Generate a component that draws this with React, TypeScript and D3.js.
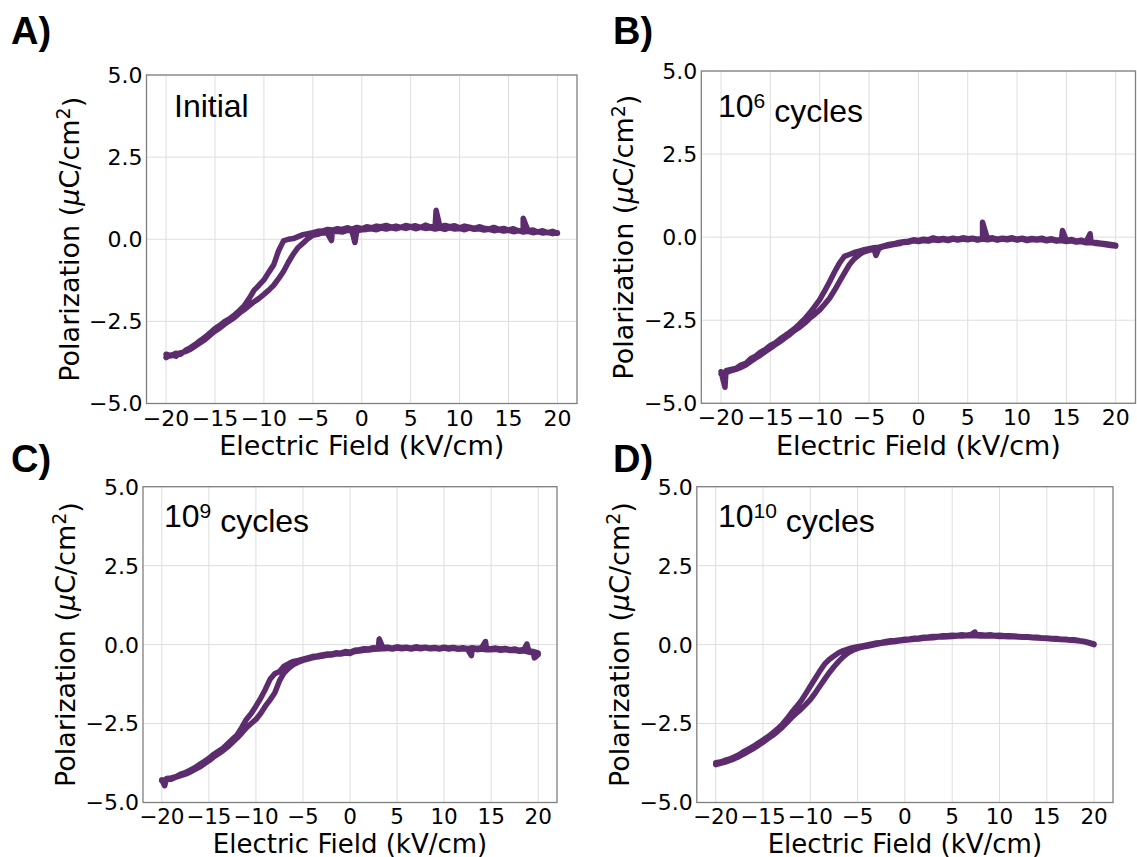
import React from "react";
import * as d3 from "d3";

// Electric field grid (kV/cm) shared by all loops
const fieldKV = [
  -20, -19.5, -19, -18.5, -18, -17.5, -17, -16.5, -16, -15.5, -15, -14.5, -14, -13.5, -13, -12.5,
  -12, -11.5, -11, -10.5, -10, -9.5, -9, -8.5, -8, -7.5, -7, -6.5, -6, -5.5, -5, -4.5, -4, -3.5,
  -3, -2.5, -2, -1.5, -1, -0.5, 0, 0.5, 1, 1.5, 2, 2.5, 3, 3.5, 4, 4.5, 5, 5.5, 6, 6.5, 7, 7.5,
  8, 8.5, 9, 9.5, 10, 10.5, 11, 11.5, 12, 12.5, 13, 13.5, 14, 14.5, 15, 15.5, 16, 16.5, 17, 17.5,
  18, 18.5, 19, 19.5, 20,
];

// A) Initial
const initialUpper = [
  -3.5, -3.55, -3.47, -3.5, -3.38, -3.3, -3.2, -3.08, -2.98, -2.85, -2.72, -2.62, -2.5, -2.42, -2.3, -2.17,
  -2.02, -1.8, -1.55, -1.4, -1.24, -1.0, -0.78, -0.35, -0.05, 0.0, 0.02, 0.08, 0.14, 0.17, 0.2, 0.24,
  0.25, 0.3, 0.28, 0.32, 0.3, 0.35, 0.31, 0.36, 0.32, 0.38, 0.35, 0.4, 0.38, 0.42, 0.37, 0.4, 0.36, 0.42,
  0.38, 0.41, 0.36, 0.43, 0.38, 0.39, 0.37, 0.42, 0.38, 0.41, 0.35, 0.4, 0.37, 0.33, 0.38, 0.34, 0.31,
  0.36, 0.3, 0.33, 0.28, 0.32, 0.26, 0.27, 0.25, 0.28, 0.22, 0.26, 0.2, 0.24, 0.18,
];
const initialLower = [
  -3.6, -3.52, -3.56, -3.45, -3.42, -3.35, -3.25, -3.15, -3.05, -2.92, -2.8, -2.7, -2.58, -2.48, -2.38, -2.25,
  -2.14, -2.02, -1.9, -1.8, -1.68, -1.55, -1.4, -1.2, -0.98, -0.7, -0.45, -0.25, -0.12, 0.02, 0.12, 0.15,
  0.2, 0.18, 0.23, 0.24, 0.22, 0.27, 0.25, 0.26, 0.29, 0.3, 0.32, 0.29, 0.34, 0.31, 0.35, 0.32, 0.36, 0.33,
  0.37, 0.32, 0.36, 0.33, 0.35, 0.31, 0.34, 0.3, 0.35, 0.31, 0.33, 0.29, 0.34, 0.3, 0.32, 0.28, 0.3,
  0.26, 0.29, 0.25, 0.27, 0.23, 0.26, 0.22, 0.24, 0.2, 0.23, 0.19, 0.21, 0.17, 0.2,
];
const initialSpikesUpper: [number, number][] = [[7.6, 0.88], [16.5, 0.64]];
const initialSpikesLower: [number, number][] = [[-3.1, -0.04], [-0.7, -0.1]];

// B) 10^6 cycles
const cycles6Upper = [
  -4.05, -4.02, -3.98, -3.95, -3.85, -3.8, -3.66, -3.58, -3.46, -3.38, -3.26, -3.18, -3.06, -2.96, -2.85, -2.74,
  -2.6, -2.45, -2.28, -2.08, -1.88, -1.62, -1.34, -1.05, -0.78, -0.58, -0.52, -0.46, -0.42, -0.38, -0.35, -0.32,
  -0.3, -0.26, -0.22, -0.2, -0.16, -0.14, -0.12, -0.08, -0.1, -0.06, -0.08, -0.02, -0.06, -0.04, -0.07, -0.03,
  -0.06, -0.02, -0.05, -0.03, -0.06, -0.04, -0.05, -0.02, -0.06, -0.03, -0.05, -0.02, -0.06, -0.03, -0.07, -0.04,
  -0.06, -0.03, -0.08, -0.05, -0.09, -0.07, -0.1, -0.07, -0.12, -0.09, -0.14, -0.15, -0.16, -0.18, -0.2, -0.22, -0.24,
];
const cycles6Lower = [
  -4.12, -4.08, -4.02, -3.98, -3.92, -3.85, -3.74, -3.64, -3.55, -3.44, -3.34, -3.24, -3.14, -3.03, -2.92, -2.8,
  -2.7, -2.58, -2.44, -2.32, -2.19, -2.02, -1.84, -1.6, -1.34, -1.08, -0.83, -0.65, -0.53, -0.44, -0.4, -0.36,
  -0.34, -0.28, -0.25, -0.22, -0.2, -0.16, -0.15, -0.11, -0.13, -0.1, -0.12, -0.08, -0.1, -0.07, -0.1, -0.06,
  -0.09, -0.06, -0.08, -0.05, -0.09, -0.06, -0.08, -0.05, -0.09, -0.06, -0.08, -0.05, -0.09, -0.06, -0.1, -0.07,
  -0.09, -0.07, -0.11, -0.08, -0.12, -0.1, -0.13, -0.11, -0.15, -0.13, -0.17, -0.16, -0.19, -0.21, -0.23, -0.25, -0.27,
];
const cycles6SpikesUpper: [number, number][] = [[-19.6, -4.52], [6.5, 0.45], [14.6, 0.2], [17.4, 0.1]];
const cycles6SpikesLower: [number, number][] = [[-4.3, -0.55]];

// C) 10^9 cycles
const cycles9Upper = [
  -4.28, -4.24, -4.22, -4.18, -4.1, -4.05, -3.98, -3.9, -3.8, -3.7, -3.6, -3.48, -3.38, -3.28, -3.14, -3.0,
  -2.86, -2.62, -2.36, -2.18, -1.95, -1.7, -1.42, -1.1, -0.92, -0.85, -0.68, -0.6, -0.53, -0.5, -0.46, -0.42,
  -0.38, -0.36, -0.33, -0.3, -0.3, -0.26, -0.27, -0.22, -0.24, -0.18, -0.16, -0.13, -0.14, -0.1, -0.12, -0.1,
  -0.08, -0.11, -0.07, -0.1, -0.08, -0.11, -0.07, -0.1, -0.08, -0.11, -0.09, -0.12, -0.08, -0.11, -0.09, -0.12,
  -0.1, -0.13, -0.1, -0.12, -0.1, -0.12, -0.13, -0.11, -0.14, -0.12, -0.16, -0.14, -0.18, -0.15, -0.2, -0.22, -0.26,
];
const cycles9Lower = [
  -4.32, -4.26, -4.26, -4.2, -4.15, -4.1, -4.04, -3.96, -3.88, -3.78, -3.68, -3.56, -3.46, -3.36, -3.24, -3.1,
  -2.96, -2.8, -2.63, -2.5, -2.37, -2.18, -1.95, -1.75, -1.53, -1.15, -0.89, -0.74, -0.63, -0.56, -0.5, -0.46,
  -0.42, -0.39, -0.37, -0.34, -0.33, -0.3, -0.3, -0.27, -0.28, -0.22, -0.2, -0.18, -0.17, -0.15, -0.14, -0.13,
  -0.12, -0.14, -0.11, -0.13, -0.11, -0.14, -0.11, -0.13, -0.1, -0.13, -0.12, -0.14, -0.11, -0.14, -0.12, -0.15,
  -0.13, -0.15, -0.13, -0.16, -0.14, -0.16, -0.16, -0.15, -0.18, -0.16, -0.19, -0.18, -0.21, -0.2, -0.24, -0.27, -0.32,
];
const cycles9SpikesUpper: [number, number][] = [[-19.7, -4.47], [3.1, 0.18], [14.4, 0.1], [18.8, 0.02]];
const cycles9SpikesLower: [number, number][] = [[12.9, -0.35], [19.6, -0.42]];

// D) 10^10 cycles
const cycles10Upper = [
  -3.74, -3.72, -3.66, -3.62, -3.55, -3.48, -3.38, -3.3, -3.22, -3.12, -3.02, -2.92, -2.8, -2.68, -2.54, -2.36,
  -2.16, -1.98, -1.79, -1.56, -1.32, -1.08, -0.84, -0.62, -0.47, -0.36, -0.26, -0.19, -0.14, -0.1, -0.07, -0.04,
  -0.01, 0.02, 0.05, 0.07, 0.1, 0.12, 0.13, 0.15, 0.17, 0.18, 0.2, 0.21, 0.23, 0.24, 0.26, 0.26, 0.28, 0.28,
  0.3, 0.29, 0.31, 0.3, 0.32, 0.31, 0.31, 0.3, 0.31, 0.29, 0.3, 0.28, 0.28, 0.27, 0.26, 0.25, 0.25, 0.23,
  0.23, 0.21, 0.21, 0.19, 0.19, 0.17, 0.17, 0.15, 0.15, 0.12, 0.1, 0.06, 0.02,
];
const cycles10Lower = [
  -3.8, -3.76, -3.72, -3.67, -3.61, -3.54, -3.46, -3.37, -3.29, -3.19, -3.09, -2.98, -2.88, -2.76, -2.63, -2.48,
  -2.32, -2.18, -2.05, -1.9, -1.74, -1.54, -1.32, -1.1, -0.89, -0.7, -0.53, -0.38, -0.26, -0.18, -0.12, -0.08,
  -0.05, -0.02, 0.01, 0.04, 0.06, 0.08, 0.1, 0.12, 0.14, 0.15, 0.17, 0.18, 0.2, 0.21, 0.22, 0.24, 0.24, 0.25,
  0.26, 0.27, 0.27, 0.28, 0.28, 0.28, 0.27, 0.28, 0.27, 0.27, 0.26, 0.26, 0.25, 0.25, 0.24, 0.23, 0.23, 0.22,
  0.21, 0.2, 0.19, 0.18, 0.17, 0.16, 0.15, 0.14, 0.13, 0.11, 0.09, 0.05, 0.0,
];
const cycles10SpikesUpper: [number, number][] = [[7.4, 0.4]];
const cycles10SpikesLower: [number, number][] = [];

const xTicks = [-20, -15, -10, -5, 0, 5, 10, 15, 20];
const yTicks = [-5, -2.5, 0, 2.5, 5];
const panelLetters = ["A)", "B)", "C)", "D)"];
const panelNotes = [
  { base: "Initial", exp: "" },
  { base: "10", exp: "6" },
  { base: "10", exp: "9" },
  { base: "10", exp: "10" },
];
const loops = [
  { upper: initialUpper, lower: initialLower, su: initialSpikesUpper, sl: initialSpikesLower },
  { upper: cycles6Upper, lower: cycles6Lower, su: cycles6SpikesUpper, sl: cycles6SpikesLower },
  { upper: cycles9Upper, lower: cycles9Lower, su: cycles9SpikesUpper, sl: cycles9SpikesLower },
  { upper: cycles10Upper, lower: cycles10Lower, su: cycles10SpikesUpper, sl: cycles10SpikesLower },
];

// layout (pixel boxes)
const boxes = [
  { l: 146.5, r: 577, t: 75, b: 403.5, lx: 11, ly: 43.5, nx: 174, ny: 117, tk: 22, tf: 22, xlab: 51.5, lf: 27 },
  { l: 701.3, r: 1135.5, t: 71, b: 403.3, lx: 613, ly: 43.5, nx: 718, ny: 117, tk: 22, tf: 22, xlab: 51.5, lf: 27 },
  { l: 143, r: 557, t: 486.7, b: 802.5, lx: 11, ly: 472, nx: 164, ny: 527, tk: 21, tf: 21.5, xlab: 50, lf: 26 },
  { l: 696.8, r: 1113, t: 486.7, b: 802.5, lx: 613, ly: 472, nx: 718, ny: 527, tk: 21, tf: 21.5, xlab: 50, lf: 26 },
];

const COLOR = "#5c2c6e";
const FONT = "DejaVu Sans, sans-serif";
const ARIAL = "Liberation Sans, Arial, sans-serif";
const fmtY = d3.format(".1f");
const fmtX = d3.format("d");

function branch(vals: number[], spikes: [number, number][]): [number, number][] {
  const pts: [number, number][] = fieldKV.map((e, k) => [e, vals[k]] as [number, number]);
  spikes.forEach((s) => pts.push(s));
  return pts.sort((a, b) => a[0] - b[0]);
}

function Panel({ i }: { i: number }) {
  const bx = boxes[i];
  const x = d3.scaleLinear().domain([-22, 22]).range([bx.l, bx.r]);
  const y = d3.scaleLinear().domain([-5, 5]).range([bx.b, bx.t]);
  const lp = loops[i];
  const lower = branch(lp.lower, lp.sl);
  const upper = branch(lp.upper, lp.su).reverse();
  const pts = lower.concat(upper);
  const line = d3
    .line<[number, number]>()
    .x((d) => x(d[0]))
    .y((d) => y(d[1]));
  const note = panelNotes[i];
  const cx = (bx.l + bx.r) / 2;
  const cy = (bx.t + bx.b) / 2;
  return (
    <g>
      {xTicks.map((t) => (
        <line key={"gx" + t} x1={x(t)} x2={x(t)} y1={bx.t} y2={bx.b} stroke="#dedede" strokeWidth={1} />
      ))}
      {yTicks.map((t) => (
        <line key={"gy" + t} x1={bx.l} x2={bx.r} y1={y(t)} y2={y(t)} stroke="#dedede" strokeWidth={1} />
      ))}
      <path
        d={line(pts) || ""}
        fill="none"
        stroke={COLOR}
        strokeWidth={5.5}
        strokeLinejoin="round"
        strokeLinecap="round"
      />
      <rect x={bx.l} y={bx.t} width={bx.r - bx.l} height={bx.b - bx.t} fill="none" stroke="#808080" strokeWidth={1.3} />
      {yTicks.map((t) => (
        <text
          key={"ly" + t}
          x={bx.l - 4}
          y={y(t)}
          dy="0.36em"
          textAnchor="end"
          fontFamily={FONT}
          fontSize={22}
          fill="#000"
        >
          {fmtY(t)}
        </text>
      ))}
      {xTicks.map((t) => (
        <text
          key={"lx" + t}
          x={x(t)}
          y={bx.b + bx.tk}
          textAnchor="middle"
          fontFamily={FONT}
          fontSize={bx.tf}
          fill="#000"
        >
          {fmtX(t)}
        </text>
      ))}
      <text x={cx} y={bx.b + bx.xlab} textAnchor="middle" fontFamily={FONT} fontSize={bx.lf} fill="#000">
        Electric Field (kV/cm)
      </text>
      <text
        transform={`translate(${bx.l - 68},${cy}) rotate(-90)`}
        textAnchor="middle"
        fontFamily={FONT}
        fontSize={27}
        fill="#000"
      >
        Polarization (<tspan fontStyle="italic">μ</tspan>C/cm
        <tspan dy="-0.45em" fontSize={19}>
          2
        </tspan>
        <tspan dy="0.45em">)</tspan>
      </text>
      <text x={bx.lx} y={bx.ly} fontFamily={ARIAL} fontWeight="bold" fontSize={38} fill="#000">
        {panelLetters[i]}
      </text>
      <text x={bx.nx} y={bx.ny} fontFamily={ARIAL} fontSize={32} fill="#000">
        {note.base}
        {note.exp ? (
          <>
            <tspan dy="-0.42em" fontSize={21}>
              {note.exp}
            </tspan>
            <tspan dy="0.42em"> cycles</tspan>
          </>
        ) : null}
      </text>
    </g>
  );
}

export default function App() {
  return (
    <div style={{ position: "absolute", left: 0, top: 0 }}>
      <svg width={1137} height={857} viewBox="0 0 1137 857" style={{ display: "block", background: "#fff" }}>
        <rect x={0} y={0} width={1137} height={857} fill="#fff" />
        {[0, 1, 2, 3].map((i) => (
          <Panel key={i} i={i} />
        ))}
      </svg>
    </div>
  );
}
